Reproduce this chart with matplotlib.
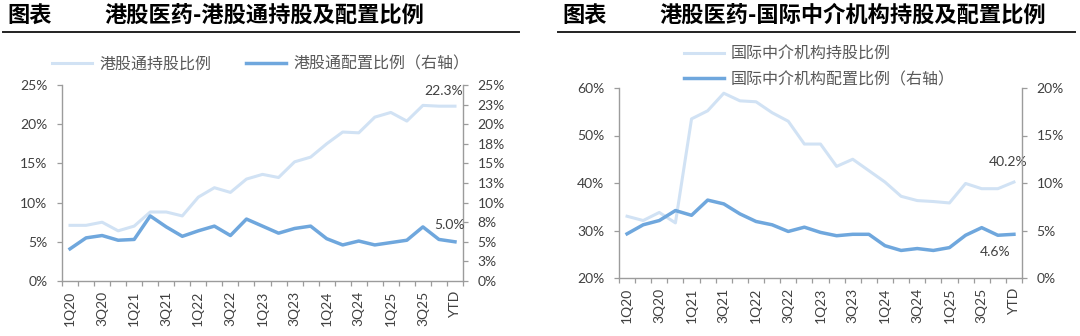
import matplotlib
matplotlib.use('Agg')
import matplotlib.pyplot as plt
from matplotlib.lines import Line2D
from matplotlib.ticker import FuncFormatter

plt.rcParams['font.family'] = ['Lato', 'Noto Sans CJK SC', 'DejaVu Sans']

# quarters on the x axis, the last point is year-to-date
quarters = ['1Q20', '2Q20', '3Q20', '4Q20', '1Q21', '2Q21', '3Q21', '4Q21',
            '1Q22', '2Q22', '3Q22', '4Q22', '1Q23', '2Q23', '3Q23', '4Q23',
            '1Q24', '2Q24', '3Q24', '4Q24', '1Q25', '2Q25', '3Q25', '4Q25', 'YTD']

# 港股通 (%)
sc_hold = [7.1, 7.1, 7.5, 6.4, 7.0, 8.8, 8.8, 8.3, 10.7, 11.9, 11.3, 13.0, 13.6,
           13.2, 15.2, 15.8, 17.5, 19.0, 18.9, 20.9, 21.5, 20.4, 22.4, 22.3, 22.3]
sc_alloc = [4.1, 5.5, 5.8, 5.2, 5.3, 8.3, 6.9, 5.7, 6.4, 7.0, 5.8, 7.9, 7.0,
            6.1, 6.7, 7.0, 5.4, 4.6, 5.1, 4.6, 4.9, 5.2, 6.9, 5.3, 5.0]

# 国际中介机构 (%)
intl_hold = [33.0, 32.1, 33.8, 31.6, 53.5, 55.2, 58.9, 57.3, 57.1, 54.8, 53.0, 48.2, 48.2,
             43.5, 45.0, 42.6, 40.2, 37.2, 36.3, 36.1, 35.8, 39.9, 38.8, 38.8, 40.2]
intl_alloc = [4.65, 5.6, 6.05, 7.1, 6.6, 8.2, 7.8, 6.75, 5.95, 5.6, 4.9, 5.35, 4.8,
              4.45, 4.6, 4.6, 3.4, 2.9, 3.1, 2.9, 3.2, 4.5, 5.3, 4.5, 4.6]

LIGHT = '#d1e2f4'
DARK = '#6fa7dd'
SPINE = '#9c9c9c'
TEXT = '#404040'
W, H = 1080, 336


def px_box(left, top, right, bottom):
    '''axes rectangle from pixel edges'''
    return [left / W, 1 - bottom / H, (right - left) / W, (bottom - top) / H]


def style_axes(ax, ax2):
    n = len(quarters)
    ax.set_xlim(-0.5, n - 0.5)
    ax.set_xticks(range(0, n, 2))
    ax.set_xticklabels(quarters[::2], rotation=90)
    ax.set_xticks([i - 0.5 for i in range(n + 1)], minor=True)
    ax.tick_params(axis='x', which='major', length=0, pad=7, labelsize=10, labelcolor=TEXT)
    ax.tick_params(axis='x', which='minor', length=3.5, width=0.9, color=SPINE)
    ax.tick_params(axis='y', length=3.5, width=0.9, color=SPINE, pad=7,
                   labelsize=10, labelcolor=TEXT)
    ax2.tick_params(axis='y', length=3.5, width=0.9, color=SPINE, pad=7,
                    labelsize=10, labelcolor=TEXT)
    for a in (ax, ax2):
        a.spines['top'].set_visible(False)
        for s in ('left', 'right', 'bottom'):
            a.spines[s].set_color(SPINE)
            a.spines[s].set_linewidth(1.0)
    ax.spines['right'].set_visible(False)
    ax2.spines['left'].set_visible(False)
    ax2.spines['bottom'].set_visible(False)


def header(x0, x1, name):
    fig.text(x0 / W, 1 - 15 / H, '图表', fontsize=16, fontweight='bold',
             family='Noto Sans CJK SC', va='center', ha='left')
    fig.text((x0 + 97) / W, 1 - 15 / H, name, fontsize=16, fontweight='bold',
             family='Noto Sans CJK SC', va='center', ha='left')
    fig.add_artist(Line2D([(x0 - 4) / W, x1 / W], [1 - 32 / H] * 2,
                          color='#222222', lw=1.4))


fig = plt.figure(figsize=(10.8, 3.36), dpi=100)
x = list(range(len(quarters)))

# left panel: 港股通
ax = fig.add_axes(px_box(62, 85, 463, 281))
ax2 = ax.twinx()
l1, = ax.plot(x, sc_hold, color=LIGHT, lw=2.2, solid_joinstyle='round')
l2, = ax2.plot(x, sc_alloc, color=DARK, lw=2.5, solid_joinstyle='round')
ax.set_ylim(0, 25)
ax.set_yticks([0, 5, 10, 15, 20, 25])
ax.yaxis.set_major_formatter(FuncFormatter(lambda v, p: f'{v:.0f}%'))
ax2.set_ylim(0, 25)
ax2.set_yticks([0, 2.5, 5, 7.5, 10, 12.5, 15, 17.5, 20, 22.5, 25])
ax2.yaxis.set_major_formatter(FuncFormatter(lambda v, p: f'{int(v + 0.5)}%'))
style_axes(ax, ax2)
ax.annotate(f'{sc_hold[-1]:.1f}%', xy=(x[-1], sc_hold[-1]), xytext=(-8, 11),
            textcoords='offset points', ha='center', va='center', fontsize=10, color=TEXT)
ax2.annotate(f'{sc_alloc[-1]:.1f}%', xy=(x[-1], sc_alloc[-1]), xytext=(-4, 12),
             textcoords='offset points', ha='center', va='center', fontsize=10, color=TEXT)
ax.legend([l1, l2], ['港股通持股比例', '港股通配置比例（右轴）'], ncol=2, frameon=False,
          loc='center left', bbox_to_anchor=(52 / W, 1 - 64 / H), bbox_transform=fig.transFigure,
          borderpad=0, borderaxespad=0, handlelength=2.5, handletextpad=0.45,
          columnspacing=2.2, prop={'family': 'Noto Sans CJK SC', 'size': 11.5},
          labelcolor='#595959')
header(7, 519, '港股医药-港股通持股及配置比例')

# right panel: 国际中介机构
bx = fig.add_axes(px_box(619, 88, 1022, 278))
bx2 = bx.twinx()
m1, = bx.plot(x, intl_hold, color=LIGHT, lw=2.2, solid_joinstyle='round')
m2, = bx2.plot(x, intl_alloc, color=DARK, lw=2.5, solid_joinstyle='round')
bx.set_ylim(20, 60)
bx.set_yticks([20, 30, 40, 50, 60])
bx.yaxis.set_major_formatter(FuncFormatter(lambda v, p: f'{v:.0f}%'))
bx2.set_ylim(0, 20)
bx2.set_yticks([0, 5, 10, 15, 20])
bx2.yaxis.set_major_formatter(FuncFormatter(lambda v, p: f'{v:.0f}%'))
style_axes(bx, bx2)
bx.annotate(f'{intl_hold[-1]:.1f}%', xy=(x[-1], intl_hold[-1]), xytext=(-4, 14.5),
            textcoords='offset points', ha='center', va='center', fontsize=10, color=TEXT)
bx2.annotate(f'{intl_alloc[-1]:.1f}%', xy=(x[-1], intl_alloc[-1]), xytext=(-13.5, -12.5),
             textcoords='offset points', ha='center', va='center', fontsize=10, color=TEXT)
bx.legend([m1, m2], ['国际中介机构持股比例', '国际中介机构配置比例（右轴）'], ncol=1,
          frameon=False, loc='center left', bbox_to_anchor=(684 / W, 1 - 67 / H),
          bbox_transform=fig.transFigure, borderpad=0, borderaxespad=0,
          handlelength=2.5, handletextpad=0.45, labelspacing=0.5,
          prop={'family': 'Noto Sans CJK SC', 'size': 11.5}, labelcolor='#595959')
header(562, 1075, '港股医药-国际中介机构持股及配置比例')

fig.savefig('out.png', dpi=100)
